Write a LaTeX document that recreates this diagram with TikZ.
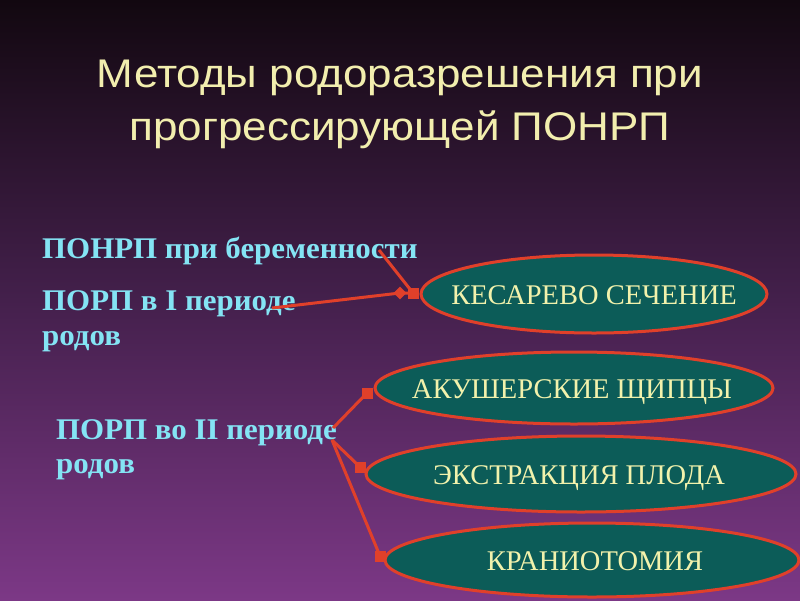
\documentclass[tikz,border=0pt]{standalone}
\usepackage{fontspec}
\setmainfont{Liberation Serif}
\newfontfamily\titlefont[FakeStretch=1.1]{Liberation Sans}
\newfontfamily\leftfont[FakeStretch=1.03]{Liberation Serif}
\usetikzlibrary{shapes.geometric}
\definecolor{bgtop}{HTML}{120810}
\definecolor{bgmid}{HTML}{44204C}
\definecolor{bgbot}{HTML}{7C3886}
\definecolor{titlecol}{HTML}{F2EEAE}
\definecolor{cyantext}{HTML}{84E4F4}
\definecolor{ovalfill}{HTML}{0C5C58}
\definecolor{ovalline}{HTML}{E0402A}
\definecolor{ovaltext}{HTML}{F2F2AC}
\tikzset{
  oval/.style={ellipse, fill=ovalfill, draw=ovalline, line width=3pt, inner sep=0pt},
  ovallabel/.style={text=ovaltext, font=\fontsize{28.5}{32}\selectfont, anchor=base},
  titleline/.style={text=titlecol, font=\titlefont\fontsize{40}{50}\selectfont, anchor=base, inner sep=0pt},
  lefttext/.style={text=cyantext, font=\leftfont\bfseries\fontsize{30}{36}\selectfont, anchor=base west, inner sep=0pt},
  link/.style={draw=ovalline, line width=3pt},
  sqmark/.style={fill=ovalline, minimum size=11pt, inner sep=0pt},
  dmmark/.style={diamond, fill=ovalline, minimum size=13pt, inner sep=0pt}
}
\begin{document}
\begin{tikzpicture}[x=1pt,y=-1pt]
\useasboundingbox (0,0) rectangle (800,600);
\shade[top color=bgtop, bottom color=bgmid] (0,0) rectangle (800,300);
\shade[top color=bgmid, bottom color=bgbot] (0,299.5) rectangle (800,600);
\node[titleline] (title1) at (400,87) {Методы родоразрешения при};
\node[titleline] (title2) at (400,140) {прогрессирующей ПОНРП};
\node[lefttext] (t1) at (42,258) {ПОНРП при беременности};
\node[lefttext] (t2) at (42,310) {ПОРП в I периоде};
\node[lefttext] (t2b) at (42,345) {родов};
\node[lefttext] (t3) at (56,439) {ПОРП во II периоде};
\node[lefttext] (t3b) at (56,473) {родов};
% connector points
\coordinate (a1) at (379,250);
\coordinate (a2) at (272,308);
\coordinate (b) at (333,428);
\coordinate (b2) at (332,440);
% ovals
\node[oval, minimum width=346pt, minimum height=78pt] (e1) at (594,294) {};
\node[oval, minimum width=398pt, minimum height=72pt] (e2) at (574,388) {};
\node[oval, minimum width=430pt, minimum height=76pt] (e3) at (581,474) {};
\node[oval, minimum width=414pt, minimum height=74pt] (e4) at (592,560) {};
\node[ovallabel] (l1) at ([yshift=-10pt]e1.center) {КЕСАРЕВО СЕЧЕНИЕ};
\node[ovallabel] (l2) at ([xshift=-2pt,yshift=-10pt]e2.center) {АКУШЕРСКИЕ ЩИПЦЫ};
\node[ovallabel] (l3) at ([xshift=-2pt,yshift=-10pt]e3.center) {ЭКСТРАКЦИЯ ПЛОДА};
\node[ovallabel] (l4) at ([xshift=3pt,yshift=-10pt]e4.center) {КРАНИОТОМИЯ};
% markers and links
\node[sqmark] (m1) at (413,293) {};
\node[dmmark] (d1) at (400,293) {};
\node[sqmark] (m2) at (367,393) {};
\node[sqmark] (m3) at (360,467) {};
\node[sqmark] (m4) at (380,556) {};
\draw[link] (a1) -- (m1.center);
\draw[link] (a2) -- (d1.center) -- (m1.center);
\draw[link] (b) -- (m2.center);
\draw[link] (b2) -- (m3.center);
\draw[link] (b2) -- (m4.center);
\end{tikzpicture}
\end{document}
